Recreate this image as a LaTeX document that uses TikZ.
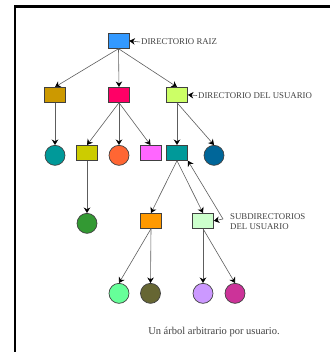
\documentclass[tikz,border=0pt]{standalone}
\usepackage{fontspec}
\setmainfont{Liberation Serif}
\usetikzlibrary{arrows.meta}
\definecolor{cRoot}{HTML}{3399FF}
\definecolor{cGold}{HTML}{CC9900}
\definecolor{cRose}{HTML}{FF0066}
\definecolor{cLime}{HTML}{CCFF66}
\definecolor{cTeal}{HTML}{009999}
\definecolor{cOlvY}{HTML}{CCCC00}
\definecolor{cOrgC}{HTML}{FF6633}
\definecolor{cMagR}{HTML}{FF66FF}
\definecolor{cNavy}{HTML}{006699}
\definecolor{cGrn}{HTML}{339933}
\definecolor{cOrgR}{HTML}{FF9900}
\definecolor{cPale}{HTML}{CCFFCC}
\definecolor{cMint}{HTML}{66FF99}
\definecolor{cOliv}{HTML}{666633}
\definecolor{cLav}{HTML}{CC99FF}
\definecolor{cPlum}{HTML}{CC3399}
\definecolor{ink}{HTML}{404040}
\begin{document}
\begin{tikzpicture}[x=1pt,y=-1pt,
  dir/.style={draw=ink,line width=0.7pt,rectangle,inner sep=0pt,
    minimum width=21pt,minimum height=15pt,anchor=north},
  leaf/.style={draw=ink,line width=0.7pt,circle,inner sep=0pt,
    minimum size=20pt,anchor=north},
  edge/.style={draw=ink!85,line width=0.6pt,
    -{Stealth[length=5.5pt,width=6.5pt,inset=1.8pt,black]}},
  lbl/.style={text=ink,font=\fontsize{8.8}{10}\selectfont,anchor=west,inner sep=1pt}]
  \useasboundingbox (0,0) rectangle (330,352);
  \draw[line width=2.5pt] (14,6.5) -- (330,6.5);
  \draw[line width=2.5pt] (15.2,5.2) -- (15.2,352);

  \foreach \n/\x/\y/\c in {root/118.5/33/cRoot,
    dA/55/87/cGold,dB/119/87/cRose,usr/177/87/cLime,
    yA/87/145/cOlvY,mB/150.5/145/cMagR,tU/177/145/cTeal,
    oT/151/213/cOrgR,pT/203/213/cPale}
  {
    \node[dir,fill=\c] (\n) at (\x,\y) {};
  }
  \foreach \n/\x/\y/\c in {tA/55/145/cTeal,oB/119/145/cOrgC,nU/214/145/cNavy,
    gY/87/213/cGrn,
    mO/119/283/cMint,vO/150.5/283/cOliv,lP/203/283/cLav,kP/235/283/cPlum}
  {
    \node[leaf,fill=\c] (\n) at (\x,\y) {};
  }

  \foreach \a/\b in {root/dA,root/dB,root/usr,dA/tA,dB/yA,dB/oB,dB/mB,
    usr/tU,usr/nU,yA/gY,tU/oT,tU/pT,oT/mO,oT/vO,pT/lP,pT/kP}
  {
    \draw[edge] (\a.south) -- (\b.north);
  }

  \node[lbl] (lRoot) at (140,42) {DIRECTORIO RAIZ};
  \node[lbl] (lUsr) at (197,95.5) {DIRECTORIO DEL USUARIO};
  \node[lbl,align=left] (lSub) at (229,222) {SUBDIRECTORIOS\\DEL USUARIO};
  \coordinate (sub) at (223,219);
  \draw[edge] (lRoot.west) -- (root.east);
  \draw[edge] (lUsr.west) -- (usr.east);
  \draw[edge] (sub) -- (pT.east);
  \draw[edge] (sub) -- (tU.south east);

  \node[text=ink,font=\fontsize{10.5}{12}\selectfont] (cap) at (214,332)
    {Un árbol arbitrario por usuario.};
\end{tikzpicture}
\end{document}
